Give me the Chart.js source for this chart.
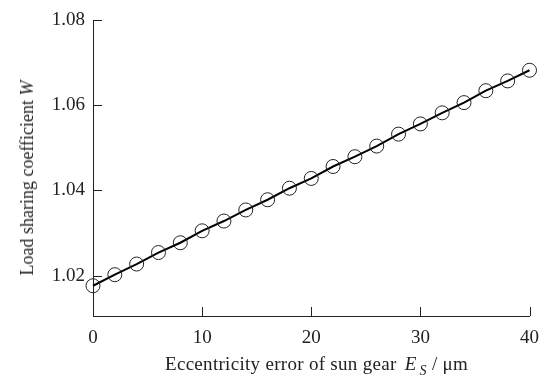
<!DOCTYPE html>
<html>
<head>
<meta charset="utf-8">
<script src="https://cdn.jsdelivr.net/npm/chart.js@4/dist/chart.umd.min.js"></script>
<style>
  html, body { margin: 0; padding: 0; background: #fff; }
  #wrap { position: relative; width: 550px; height: 378px; }
  .axis-title {
    position: absolute;
    font-family: "Liberation Serif", "DejaVu Serif", serif;
    color: #222;
    white-space: nowrap;
    line-height: 20px;
  }
  #xTitle { left: 165px; top: 354px; font-size: 19px; letter-spacing: 0.3px; }
  #yTitle {
    left: 27px; top: 178px; font-size: 18px;
    transform: translate(-50%, -50%) rotate(-90deg);
  }
  .sym { margin-left: 3px; }
  sub { font-size: 14px; vertical-align: -5px; margin-left: 3px; }
  .unit { margin-left: 5px; }
</style>
</head>
<body>
<div id="wrap">
  <canvas id="sharingChart" width="550" height="378"></canvas>
  <div id="xTitle" class="axis-title">Eccentricity error of sun gear <i class="sym">E</i><sub><i>S</i></sub><span class="unit">/ μm</span></div>
  <div id="yTitle" class="axis-title">Load sharing coefficient <i>W</i></div>
</div>
<script>
// 偏心誤差 (μm)
const eccentricity = [0, 2, 4, 6, 8, 10, 12, 14, 16, 18, 20, 22, 24, 26, 28, 30, 32, 34, 36, 38, 40];
// 均載係数 W
const loadSharing = [1.0176, 1.0202, 1.0227, 1.0254, 1.0277, 1.0305, 1.0328, 1.0354, 1.0378, 1.0405,
  1.0428, 1.0456, 1.0479, 1.0504, 1.0532, 1.0556, 1.0582, 1.0606, 1.0634, 1.0657, 1.0682];
// 目盛り
const xTicks = [0, 10, 20, 30, 40];
const yTicks = [1.02, 1.04, 1.06, 1.08];

const inkColor = "#222";
const serif = "'Liberation Serif', 'DejaVu Serif', serif";

// 内向きの目盛り線を描く
const innerTicks = {
  id: "innerTicks",
  afterDraw(chart) {
    const ctx = chart.ctx;
    const x = chart.scales.x;
    const y = chart.scales.y;
    ctx.save();
    ctx.strokeStyle = inkColor;
    ctx.lineWidth = 1;
    ctx.beginPath();
    xTicks.forEach((v) => {
      const px = Math.round(x.getPixelForValue(v)) + 0.5;
      ctx.moveTo(px, y.bottom);
      ctx.lineTo(px, y.bottom - 9);
    });
    yTicks.forEach((v) => {
      const py = Math.round(y.getPixelForValue(v)) + 0.5;
      ctx.moveTo(x.left, py);
      ctx.lineTo(x.left + 9, py);
    });
    ctx.stroke();
    ctx.restore();
  },
};

const sharingConfig = {
  type: "line",
  data: {
    datasets: [
      {
        label: "W",
        data: eccentricity.map((e, i) => ({ x: e, y: loadSharing[i] })),
        borderColor: "#000",
        borderWidth: 2,
        pointRadius: 7,
        pointBorderWidth: 1,
        pointBorderColor: "#222",
        pointBackgroundColor: "rgba(0,0,0,0)",
        pointHoverRadius: 7,
        tension: 0,
        clip: false,
      },
    ],
  },
  options: {
    responsive: false,
    animation: false,
    events: [],
    layout: {
      padding: { left: 0, right: 13, top: 20, bottom: 0 },
    },
    plugins: {
      legend: { display: false },
      tooltip: { enabled: false },
    },
    scales: {
      x: {
        type: "linear",
        min: 0,
        max: 40,
        afterBuildTicks: (scale) => {
          scale.ticks = xTicks.map((v) => ({ value: v }));
        },
        afterFit: (scale) => {
          scale.height = 62;
        },
        grid: { display: false, drawTicks: false },
        border: { display: true, color: inkColor, width: 1 },
        ticks: {
          padding: 11,
          color: inkColor,
          font: { family: serif, size: 19 },
        },
      },
      y: {
        type: "linear",
        min: 1.0105,
        max: 1.08,
        afterBuildTicks: (scale) => {
          scale.ticks = yTicks.map((v) => ({ value: v }));
        },
        afterFit: (scale) => {
          scale.width = 93;
        },
        grid: { display: false, drawTicks: false },
        border: { display: true, color: inkColor, width: 1 },
        ticks: {
          padding: 8,
          color: inkColor,
          font: { family: serif, size: 19 },
          callback: (v) => v.toFixed(2),
        },
      },
    },
  },
  plugins: [innerTicks],
};

new Chart(document.getElementById("sharingChart"), sharingConfig);
</script>
</body>
</html>
